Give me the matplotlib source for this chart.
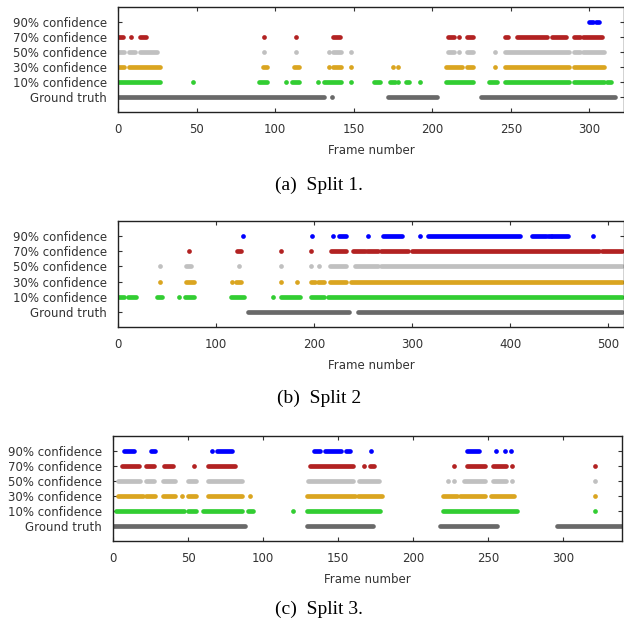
import matplotlib
matplotlib.use('Agg')
import matplotlib.pyplot as plt

# Etiquetas y colores de las filas (de abajo hacia arriba)
row_labels = ['Ground truth', '10% confidence', '30% confidence',
              '50% confidence', '70% confidence', '90% confidence']
row_colors = ['#696969', '#32cd32', '#daa520', '#c0c0c0', '#b22222', '#0000ff']

# Split 1: intervalos de frames (inicio, fin)
s1_gt  = [(0, 131), (136, 136), (172, 203), (231, 316)]
s1_c10 = [(0, 27), (48, 48), (90, 95), (107, 107), (111, 115), (127, 127), (131, 142),
          (148, 148), (163, 167), (173, 176), (178, 178), (183, 185), (192, 192),
          (209, 226), (236, 241), (246, 287), (290, 309), (311, 314)]
s1_c30 = [(0, 4), (7, 27), (92, 95), (112, 115), (134, 134), (137, 142), (148, 148),
          (175, 175), (178, 178), (209, 219), (222, 226), (240, 240), (246, 287), (290, 309)]
s1_c50 = [(0, 4), (7, 11), (14, 25), (93, 93), (113, 113), (134, 134), (137, 142),
          (148, 148), (210, 214), (217, 217), (222, 226), (240, 240), (246, 287),
          (290, 294), (296, 309)]
s1_c70 = [(0, 3), (8, 8), (14, 18), (93, 93), (113, 113), (137, 141), (210, 214),
          (217, 217), (222, 226), (246, 248), (254, 273), (276, 285), (290, 294), (296, 308)]
s1_c90 = [(300, 302), (304, 306)]

# Split 2
s2_gt  = [(133, 236), (245, 514)]
s2_c10 = [(0, 6), (10, 18), (40, 45), (62, 62), (68, 77), (115, 128), (158, 158),
          (166, 186), (197, 210), (214, 514)]
s2_c30 = [(43, 43), (69, 77), (116, 116), (120, 125), (166, 166), (183, 183),
          (197, 201), (204, 210), (216, 233), (238, 514)]
s2_c50 = [(43, 43), (69, 74), (123, 123), (166, 166), (197, 197), (205, 205),
          (216, 233), (242, 265), (268, 514)]
s2_c70 = [(72, 72), (121, 125), (166, 166), (197, 197), (217, 233), (240, 252),
          (254, 265), (268, 296), (300, 491), (494, 514)]
s2_c90 = [(127, 127), (198, 198), (219, 219), (225, 233), (255, 255), (270, 290),
          (308, 308), (316, 410), (422, 436), (439, 442), (443, 459), (484, 484)]

# Split 3
s3_gt  = [(0, 88), (129, 173), (218, 256), (296, 339)]
s3_c10 = [(2, 47), (50, 55), (60, 86), (90, 93), (120, 120), (129, 178), (220, 269),
          (321, 321)]
s3_c30 = [(3, 20), (22, 28), (33, 41), (46, 46), (50, 55), (63, 86), (91, 91),
          (129, 161), (163, 179), (220, 229), (231, 248), (252, 267), (321, 321)]
s3_c50 = [(3, 18), (22, 27), (33, 41), (50, 55), (63, 86), (130, 160), (164, 177),
          (223, 223), (227, 227), (234, 248), (253, 262), (266, 266), (321, 321)]
s3_c70 = [(6, 17), (22, 27), (34, 40), (54, 54), (63, 81), (131, 160), (167, 167),
          (171, 174), (227, 227), (236, 248), (253, 262), (266, 266), (321, 321)]
s3_c90 = [(7, 14), (25, 28), (66, 66), (69, 79), (134, 138), (141, 152), (155, 158),
          (172, 172), (236, 244), (255, 255), (261, 261), (265, 265)]

captions = ['(a)  Split 1.', '(b)  Split 2', '(c)  Split 3.']

# Figura
W, H = 624, 622
fig = plt.figure(figsize=(W/100, H/100), dpi=100)
fig.patch.set_facecolor('white')

# (left, top, right, bottom) en pixeles, xmax, paso de ticks
panels = [
    ((118, 7, 624, 112), 322, 50, [s1_gt, s1_c10, s1_c30, s1_c50, s1_c70, s1_c90]),
    ((118, 221, 624, 327), 516, 100, [s2_gt, s2_c10, s2_c30, s2_c50, s2_c70, s2_c90]),
    ((113.3, 436, 621.7, 541), 339, 50, [s3_gt, s3_c10, s3_c30, s3_c50, s3_c70, s3_c90]),
]
cap_y = [185, 398, 609]

lw = 3.4
txt = '#333333'
for (l, t, r, b), xmax, step, rows in panels:
    ax = fig.add_axes([l/W, 1 - b/H, (r - l)/W, (b - t)/H])
    for i, runs in enumerate(rows):
        longs = [(s, e) for s, e in runs if e > s]
        singles = [s for s, e in runs if e == s]
        ax.hlines([i]*len(longs), [s for s, e in longs], [e for s, e in longs],
                  colors=row_colors[i], linewidth=lw, capstyle='round')
        ax.plot(singles, [i]*len(singles), 'o', color=row_colors[i],
                markersize=lw, markeredgewidth=0)
    ax.set_xlim(0, xmax)
    ax.set_ylim(-1, 6)
    ax.set_xticks(range(0, xmax + 1, step))
    ax.set_yticks(range(6))
    ax.set_yticklabels(row_labels)
    ax.tick_params(direction='in', length=3, width=0.8, top=True, right=True,
                   labelsize=8.5, labelcolor=txt, color='#333333')
    ax.tick_params(axis='x', pad=8)
    ax.tick_params(axis='y', pad=8)
    ax.set_xlabel('Frame number', fontsize=8.5, color=txt, labelpad=6)
    for sp in ax.spines.values():
        sp.set_linewidth(1.0)
        sp.set_color('#222222')

for cap, y in zip(captions, cap_y):
    fig.text(319/W, 1 - y/H, cap, ha='center', va='center', fontsize=14,
             family='Liberation Serif')

plt.savefig('out.png', dpi=100)
